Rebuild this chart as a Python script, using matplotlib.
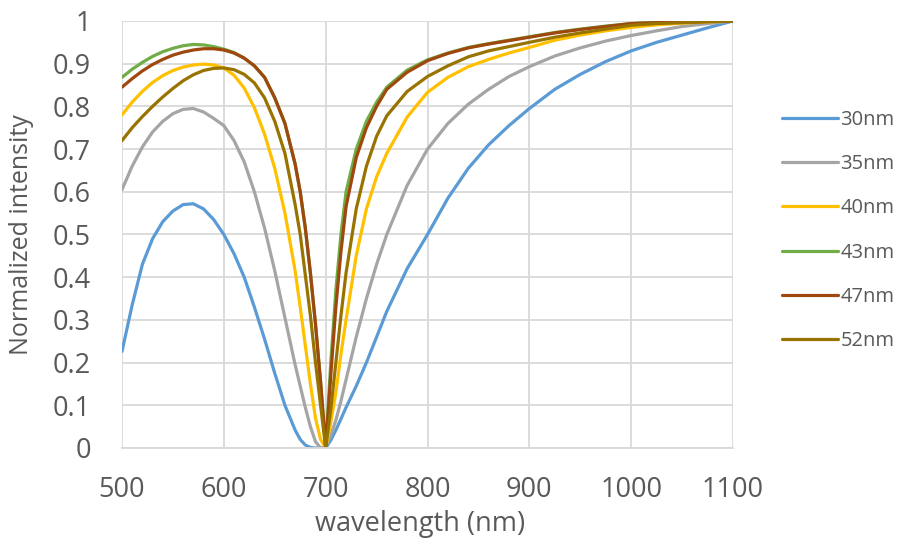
import matplotlib
matplotlib.use("Agg")
import matplotlib.pyplot as plt

plt.rcParams['font.family'] = ['Open Sans', 'DejaVu Sans']

# wavelength samples (nm)
wavelength = [500, 510, 520, 530, 540, 550, 560, 570, 580, 590, 600, 610, 620, 630,
              640, 650, 660, 670, 675, 680, 685, 690, 695, 700, 705, 710, 715, 720,
              730, 740, 750, 760, 780, 800, 820, 840, 860, 880, 900, 925, 950, 975,
              1000, 1025, 1050, 1075, 1100]

nm30 = [0.226, 0.335, 0.43, 0.49, 0.53, 0.555, 0.57, 0.572, 0.56, 0.535, 0.5, 0.455,
        0.4, 0.33, 0.255, 0.175, 0.1, 0.042, 0.02, 0.007, 0.001, 0.0, 0.0, 0.0,
        0.018, 0.042, 0.068, 0.095, 0.145, 0.2, 0.26, 0.32, 0.42, 0.5, 0.585, 0.655,
        0.71, 0.755, 0.795, 0.84, 0.875, 0.905, 0.93, 0.95, 0.967, 0.984, 1.0]

nm35 = [0.605, 0.66, 0.705, 0.74, 0.765, 0.783, 0.793, 0.795, 0.787, 0.772, 0.755, 0.72,
        0.67, 0.6, 0.515, 0.415, 0.305, 0.195, 0.145, 0.095, 0.05, 0.015, 0.0, 0.003,
        0.03, 0.065, 0.11, 0.16, 0.26, 0.35, 0.43, 0.5, 0.615, 0.7, 0.76, 0.805,
        0.84, 0.87, 0.893, 0.918, 0.937, 0.953, 0.966, 0.977, 0.987, 0.994, 1.0]

nm40 = [0.78, 0.81, 0.835, 0.856, 0.872, 0.884, 0.892, 0.897, 0.899, 0.897, 0.89, 0.873,
        0.843, 0.797, 0.735, 0.655, 0.55, 0.415, 0.33, 0.24, 0.15, 0.07, 0.02, 0.0,
        0.06, 0.13, 0.22, 0.3, 0.45, 0.56, 0.635, 0.69, 0.775, 0.833, 0.868, 0.893,
        0.91, 0.925, 0.938, 0.955, 0.967, 0.977, 0.985, 0.991, 0.995, 0.998, 1.0]

nm43 = [0.868, 0.887, 0.903, 0.917, 0.928, 0.936, 0.942, 0.945, 0.944, 0.94, 0.934, 0.926,
        0.913, 0.895, 0.868, 0.82, 0.76, 0.665, 0.6, 0.515, 0.41, 0.29, 0.155, 0.0,
        0.2, 0.37, 0.5, 0.6, 0.7, 0.765, 0.81, 0.845, 0.885, 0.909, 0.925, 0.938,
        0.947, 0.955, 0.963, 0.973, 0.981, 0.988, 0.994, 0.997, 0.998, 0.999, 1.0]

nm47 = [0.845, 0.865, 0.883, 0.898, 0.91, 0.92, 0.927, 0.932, 0.935, 0.935, 0.932, 0.925,
        0.913, 0.895, 0.868, 0.82, 0.76, 0.665, 0.6, 0.515, 0.41, 0.29, 0.155, 0.0,
        0.17, 0.33, 0.46, 0.565, 0.68, 0.75, 0.8, 0.84, 0.88, 0.907, 0.924, 0.937,
        0.946, 0.954, 0.962, 0.972, 0.98, 0.987, 0.994, 0.996, 0.998, 0.999, 1.0]

nm52 = [0.72, 0.75, 0.776, 0.8, 0.822, 0.842, 0.86, 0.874, 0.884, 0.889, 0.89, 0.886,
        0.875, 0.855, 0.82, 0.765, 0.69, 0.57, 0.5, 0.405, 0.31, 0.2, 0.1, 0.0,
        0.09, 0.2, 0.31, 0.41, 0.56, 0.66, 0.73, 0.778, 0.835, 0.87, 0.895, 0.916,
        0.93, 0.94, 0.95, 0.962, 0.972, 0.981, 0.99, 0.994, 0.996, 0.998, 1.0]

labels = ['30nm', '35nm', '40nm', '43nm', '47nm', '52nm']
colors = ['#5B9BD5', '#A5A5A5', '#FFC000', '#70AD47', '#9E480E', '#997300']
series = [nm30, nm35, nm40, nm43, nm47, nm52]

text_gray = '#595959'
grid_gray = '#D9D9D9'

fig = plt.figure(figsize=(8.99, 5.45), dpi=100)
ax = fig.add_axes([0.1357, 0.178, 0.6797, 0.7835])

for vals, lab, col in zip(series, labels, colors):
    ax.plot(wavelength, vals, color=col, lw=2.3, label=lab,
            solid_joinstyle='round', solid_capstyle='round')

ax.set_xlim(500, 1100)
ax.set_ylim(0, 1)
ax.set_xticks(range(500, 1101, 100))
ax.set_yticks([i / 10 for i in range(11)])
ax.set_yticklabels(['0', '0.1', '0.2', '0.3', '0.4', '0.5', '0.6', '0.7', '0.8', '0.9', '1'])

ax.grid(True, color=grid_gray, lw=1.3)
ax.set_axisbelow(True)
for s in ['top', 'right', 'left']:
    ax.spines[s].set_visible(False)
ax.spines['bottom'].set_color(grid_gray)
ax.spines['bottom'].set_linewidth(1.3)

ax.tick_params(axis='both', length=0, labelsize=19.5, labelcolor=text_gray)
ax.tick_params(axis='y', pad=22.5)
ax.tick_params(axis='x', pad=20.5)

ax.set_xlabel('wavelength (nm)', fontsize=19.5, color=text_gray, va='center')
ax.set_ylabel('Normalized intensity', fontsize=18, color=text_gray, va='center')
ax.xaxis.set_label_coords(0.488, -0.178)
ax.yaxis.set_label_coords(-0.1637, 0.5)

ax.legend(loc='center left', bbox_to_anchor=(0.8699, 0.577), bbox_transform=fig.transFigure,
          frameon=False, fontsize=14.5, handlelength=2.8, handletextpad=0.1,
          labelspacing=1.205, borderpad=0, borderaxespad=0, labelcolor=text_gray)

fig.savefig('out.png', dpi=100)
